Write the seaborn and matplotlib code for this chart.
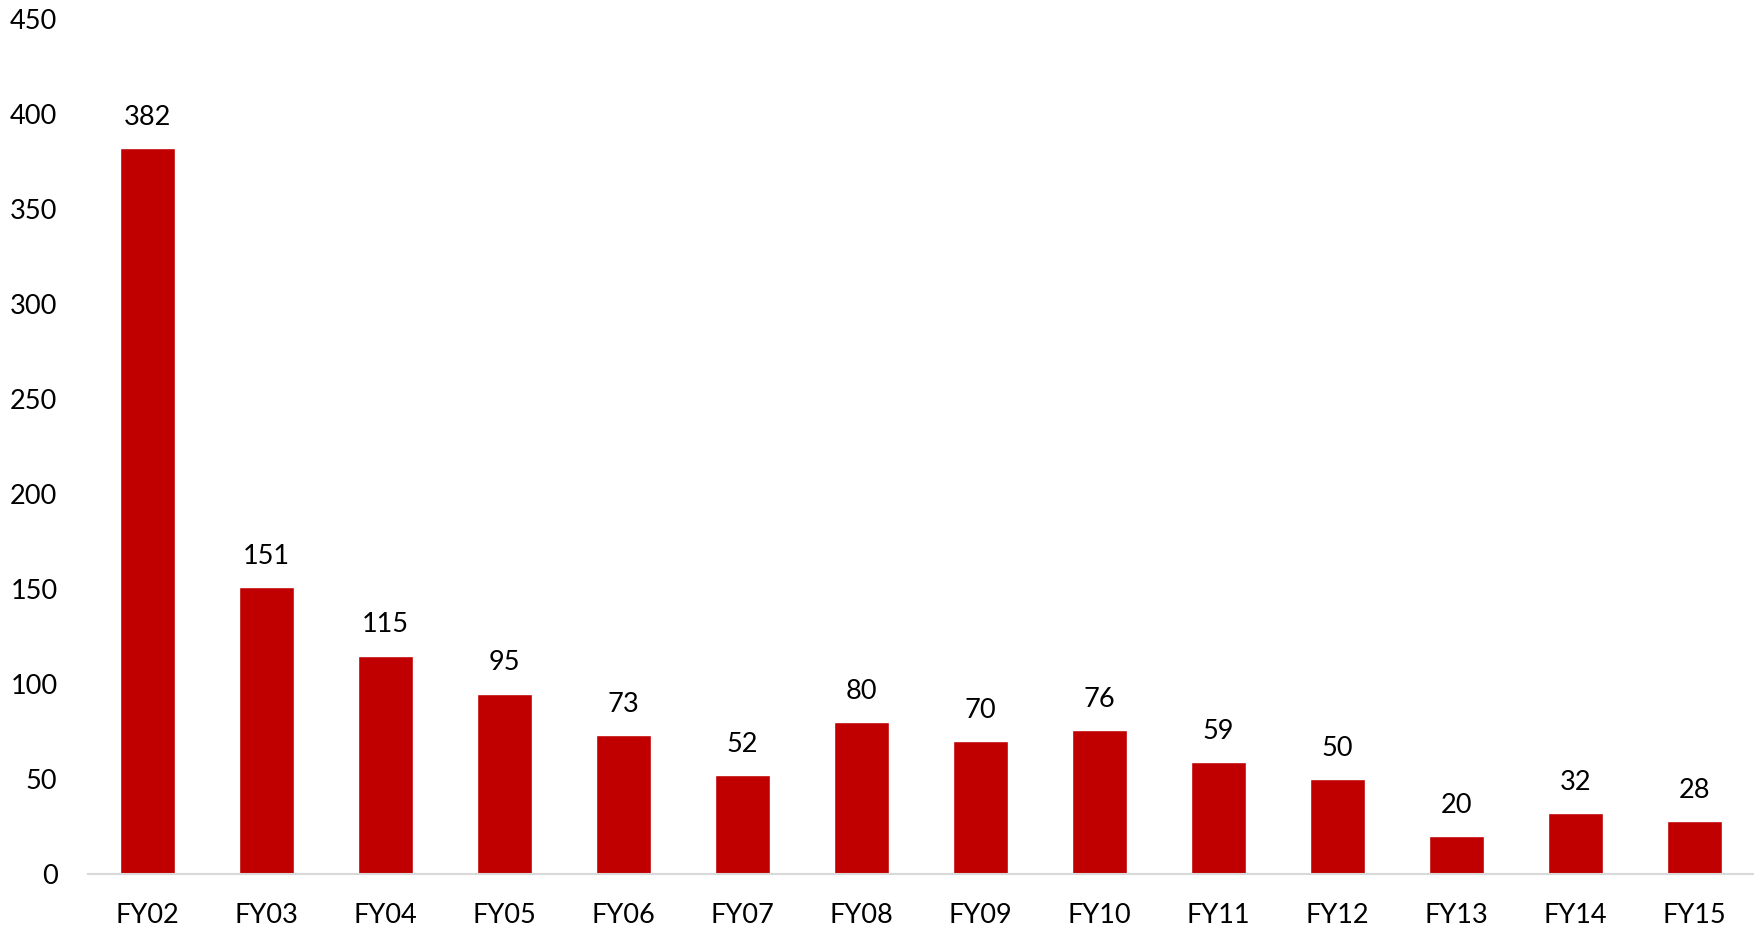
import matplotlib
matplotlib.use("Agg")
import matplotlib.pyplot as plt
import seaborn as sns
import pandas as pd

years = ["FY02", "FY03", "FY04", "FY05", "FY06", "FY07", "FY08",
         "FY09", "FY10", "FY11", "FY12", "FY13", "FY14", "FY15"]
counts = [382, 151, 115, 95, 73, 52, 80, 70, 76, 59, 50, 20, 32, 28]
y_ticks = [0, 50, 100, 150, 200, 250, 300, 350, 400, 450]

sns.set_theme(style="white")
plt.rcParams["font.family"] = ["Lato", "DejaVu Sans"]

df = pd.DataFrame({"year": years, "count": counts})

fig = plt.figure(figsize=(17.54, 9.31), dpi=100)
ax = fig.add_axes([88 / 1754, 1 - 874 / 931, (1754 - 88) / 1754, (874 - 19) / 931])

sns.barplot(data=df, x="year", y="count", color="#C00000", saturation=1,
            width=0.47, ax=ax)

for i, v in enumerate(counts):
    ax.annotate(str(v), (i, v), xytext=(0, 13), textcoords="offset points",
                ha="center", va="bottom", fontsize=19.5, color="black")

ax.set_ylim(0, 450)
ax.set_xlim(-0.5, len(years) - 0.5)
ax.set_yticks(y_ticks)
ax.set_xlabel("")
ax.set_ylabel("")
ax.tick_params(axis="y", labelsize=19.5, length=0, pad=22, colors="black")
ax.tick_params(axis="x", labelsize=19.5, length=0, pad=21, colors="black")
for side in ["top", "right", "left"]:
    ax.spines[side].set_visible(False)
ax.spines["bottom"].set_color("#D9D9D9")
ax.spines["bottom"].set_linewidth(1.5)
ax.grid(False)

fig.savefig("out.png", dpi=100, facecolor="white")
